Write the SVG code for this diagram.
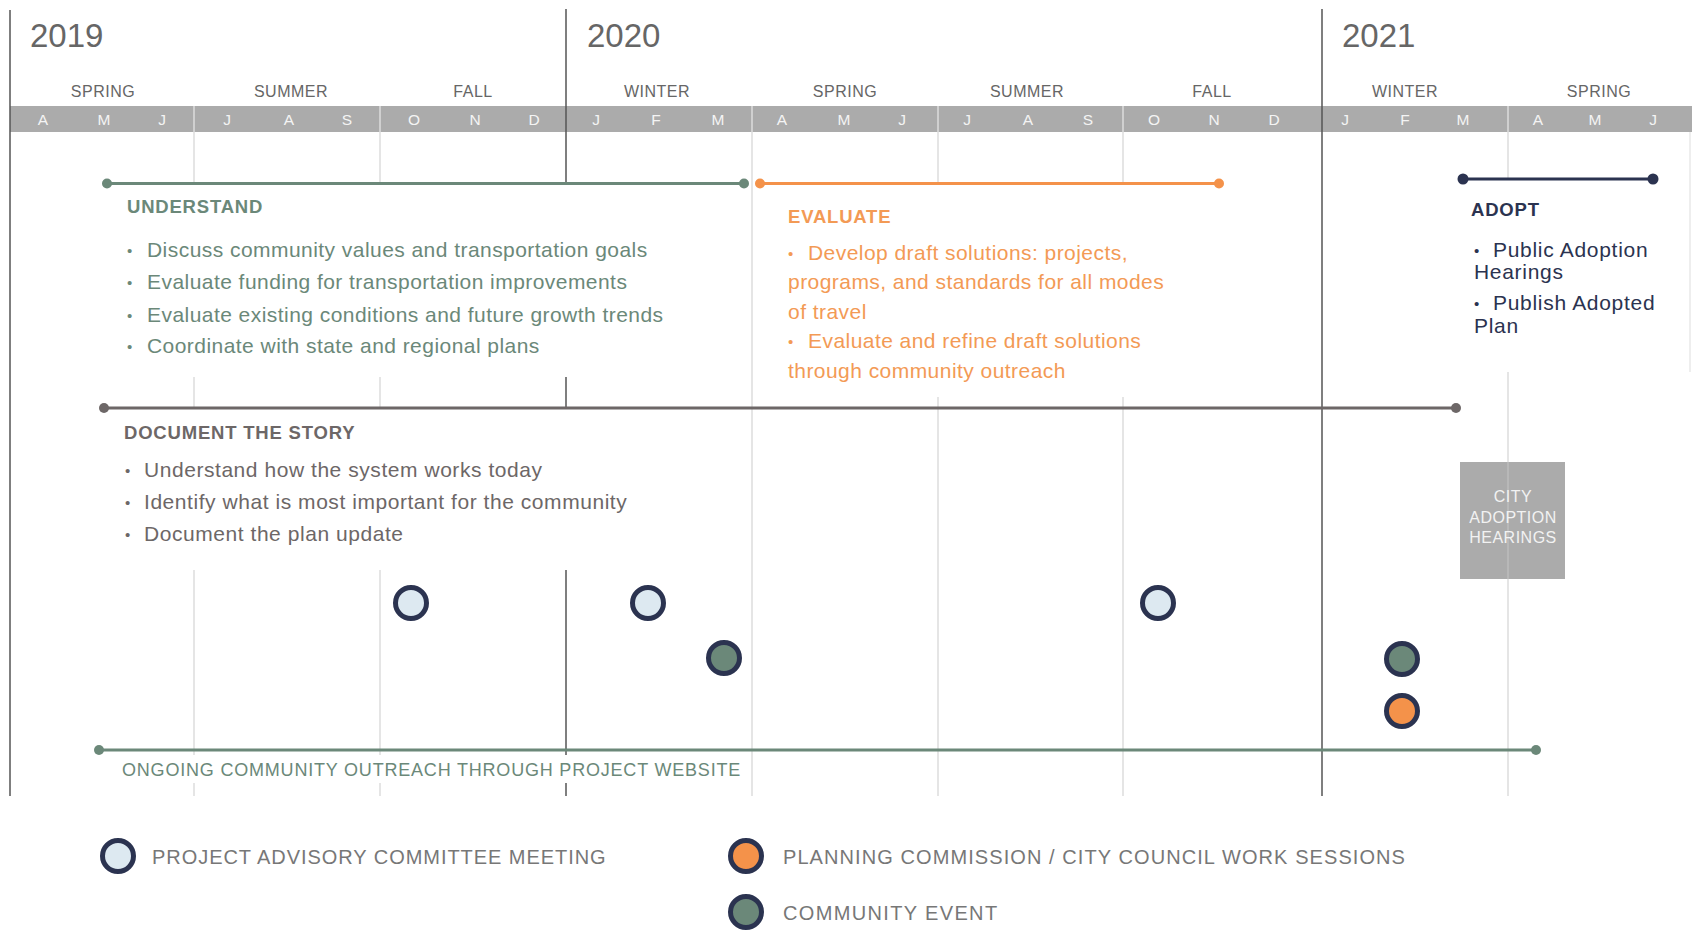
<svg xmlns="http://www.w3.org/2000/svg" width="1692" height="930" viewBox="0 0 1692 930">
<style>
text{font-family:"Liberation Sans",Arial,sans-serif}
.yr{font-size:33px;fill:#666}
.season{font-size:16px;fill:#666;text-anchor:middle;letter-spacing:0.5px}
.mo{font-size:15.5px;fill:#f4f4f4;text-anchor:middle}
.grid{stroke:#dddddd;stroke-width:1.5;fill:none}
.year{stroke:#555555;stroke-width:1.5;fill:none}
.title{font-size:18.5px;font-weight:bold;letter-spacing:0.8px}
.body{font-size:21px;letter-spacing:0.45px}
.bul{font-size:15px}
.green{fill:#6b8879}
.orange{fill:#f39a55}
.navy{fill:#2b3350}
.brown{fill:#6d6767}
.ev{stroke:#2b3350;stroke-width:5}
.pac{fill:#dde9f1}
.com{fill:#6b8879}
.pc{fill:#f4924a}
.leg{font-size:20px;fill:#777;letter-spacing:0.95px}
</style>

<g id="header">
  <text class="yr" x="30" y="47">2019</text>
  <text class="yr" x="587" y="47">2020</text>
  <text class="yr" x="1342" y="47">2021</text>
  <text class="season" x="103" y="97">SPRING</text>
  <text class="season" x="291" y="97">SUMMER</text>
  <text class="season" x="473" y="97">FALL</text>
  <text class="season" x="657" y="97">WINTER</text>
  <text class="season" x="845" y="97">SPRING</text>
  <text class="season" x="1027" y="97">SUMMER</text>
  <text class="season" x="1212" y="97">FALL</text>
  <text class="season" x="1405" y="97">WINTER</text>
  <text class="season" x="1599" y="97">SPRING</text>
  <rect x="10" y="106" width="1682" height="26" fill="#ababab"/>
  <text class="mo" x="43" y="125">A</text>
  <text class="mo" x="104" y="125">M</text>
  <text class="mo" x="162" y="125">J</text>
  <text class="mo" x="227" y="125">J</text>
  <text class="mo" x="289" y="125">A</text>
  <text class="mo" x="347" y="125">S</text>
  <text class="mo" x="414" y="125">O</text>
  <text class="mo" x="475" y="125">N</text>
  <text class="mo" x="534" y="125">D</text>
  <text class="mo" x="596" y="125">J</text>
  <text class="mo" x="656" y="125">F</text>
  <text class="mo" x="718" y="125">M</text>
  <text class="mo" x="782" y="125">A</text>
  <text class="mo" x="844" y="125">M</text>
  <text class="mo" x="902" y="125">J</text>
  <text class="mo" x="967" y="125">J</text>
  <text class="mo" x="1028" y="125">A</text>
  <text class="mo" x="1088" y="125">S</text>
  <text class="mo" x="1154" y="125">O</text>
  <text class="mo" x="1214" y="125">N</text>
  <text class="mo" x="1274" y="125">D</text>
  <text class="mo" x="1345" y="125">J</text>
  <text class="mo" x="1405" y="125">F</text>
  <text class="mo" x="1463" y="125">M</text>
  <text class="mo" x="1538" y="125">A</text>
  <text class="mo" x="1595" y="125">M</text>
  <text class="mo" x="1653" y="125">J</text>
</g>

<g id="gridlines">
  <path class="grid" d="M194 106V184M194 377V408M194 570V755M194 783V796"/>
  <path class="grid" d="M380 106V184M380 377V408M380 570V755M380 783V796"/>
  <path class="grid" d="M752 106V796"/>
  <path class="grid" d="M938 106V184M938 397V796"/>
  <path class="grid" d="M1123 106V184M1123 397V796"/>
  <path class="grid" d="M1508 106V179M1508 372V796"/>
  <path class="grid" d="M1690 132V372" style="stroke:#e8e8e8"/>
  <path class="year" d="M10 10V796"/>
  <path class="year" d="M566 9V184M566 377V408M566 570V755M566 783V796"/>
  <path class="year" d="M1322 9V796"/>
</g>

<g id="city-adoption-hearings">
  <rect x="1460" y="462" width="105" height="117" fill="#ababab"/>
  <path d="M1508 462V579" stroke="#bdbdbd" stroke-width="1.5"/>
  <text x="1513" y="502" font-size="16" fill="#f2f2f2" text-anchor="middle" letter-spacing="0.5">CITY</text>
  <text x="1513" y="523" font-size="16" fill="#f2f2f2" text-anchor="middle" letter-spacing="0.5">ADOPTION</text>
  <text x="1513" y="543" font-size="16" fill="#f2f2f2" text-anchor="middle" letter-spacing="0.5">HEARINGS</text>
</g>

<g id="connectors">
  <g id="understand-line" stroke="#6b8879" fill="#6b8879">
    <line x1="107" y1="183.5" x2="744" y2="183.5" stroke-width="3"/>
    <circle cx="107" cy="183.5" r="5" stroke="none"/>
    <circle cx="744" cy="183.5" r="5" stroke="none"/>
  </g>
  <g id="evaluate-line" stroke="#f4924a" fill="#f4924a">
    <line x1="760" y1="183.5" x2="1219" y2="183.5" stroke-width="3"/>
    <circle cx="760" cy="183.5" r="5" stroke="none"/>
    <circle cx="1219" cy="183.5" r="5" stroke="none"/>
  </g>
  <g id="adopt-line" stroke="#2b3350" fill="#2b3350">
    <line x1="1463" y1="179" x2="1653" y2="179" stroke-width="3"/>
    <circle cx="1463" cy="179" r="5.5" stroke="none"/>
    <circle cx="1653" cy="179" r="5.5" stroke="none"/>
  </g>
  <g id="document-line" stroke="#6d6767" fill="#6d6767">
    <line x1="104" y1="408" x2="1456" y2="408" stroke-width="3"/>
    <circle cx="104" cy="408" r="5" stroke="none"/>
    <circle cx="1456" cy="408" r="5" stroke="none"/>
  </g>
  <g id="ongoing-line" stroke="#6b8879" fill="#6b8879">
    <line x1="99" y1="750" x2="1536" y2="750" stroke-width="3"/>
    <circle cx="99" cy="750" r="5" stroke="none"/>
    <circle cx="1536" cy="750" r="5" stroke="none"/>
  </g>
</g>

<g id="understand">
  <text class="title green" x="127" y="213">UNDERSTAND</text>
  <text class="bul green" x="127" y="256">•</text>
  <text class="body green" x="147" y="257">Discuss community values and transportation goals</text>
  <text class="bul green" x="127" y="288">•</text>
  <text class="body green" x="147" y="289">Evaluate funding for transportation improvements</text>
  <text class="bul green" x="127" y="321">•</text>
  <text class="body green" x="147" y="322">Evaluate existing conditions and future growth trends</text>
  <text class="bul green" x="127" y="352">•</text>
  <text class="body green" x="147" y="353">Coordinate with state and regional plans</text>
</g>

<g id="evaluate">
  <text class="title orange" x="788" y="223">EVALUATE</text>
  <text class="bul orange" x="788" y="259">•</text>
  <text class="body orange" x="808" y="260">Develop draft solutions: projects,</text>
  <text class="body orange" x="788" y="289">programs, and standards for all modes</text>
  <text class="body orange" x="788" y="319">of travel</text>
  <text class="bul orange" x="788" y="347">•</text>
  <text class="body orange" x="808" y="348">Evaluate and refine draft solutions</text>
  <text class="body orange" x="788" y="378">through community outreach</text>
</g>

<g id="adopt">
  <text class="title navy" x="1471" y="216">ADOPT</text>
  <text class="bul navy" x="1474" y="256">•</text>
  <text class="body navy" x="1493" y="257" style="letter-spacing:0.7px">Public Adoption</text>
  <text class="body navy" x="1474" y="279" style="letter-spacing:0.7px">Hearings</text>
  <text class="bul navy" x="1474" y="309">•</text>
  <text class="body navy" x="1493" y="310" style="letter-spacing:0.7px">Publish Adopted</text>
  <text class="body navy" x="1474" y="333" style="letter-spacing:0.7px">Plan</text>
</g>

<g id="document-the-story">
  <text class="title brown" x="124" y="439">DOCUMENT THE STORY</text>
  <text class="bul brown" x="125" y="476">•</text>
  <text class="body brown" x="144" y="477" style="letter-spacing:0.55px">Understand how the system works today</text>
  <text class="bul brown" x="125" y="508">•</text>
  <text class="body brown" x="144" y="509" style="letter-spacing:0.55px">Identify what is most important for the community</text>
  <text class="bul brown" x="125" y="540">•</text>
  <text class="body brown" x="144" y="541" style="letter-spacing:0.55px">Document the plan update</text>
</g>

<g id="ongoing-outreach">
  <text x="122" y="776" font-size="18" fill="#6b8879" letter-spacing="0.8">ONGOING COMMUNITY OUTREACH THROUGH PROJECT WEBSITE</text>
</g>

<g id="events">
  <circle id="pac-1" class="ev pac" cx="411" cy="603" r="15.5"/>
  <circle id="pac-2" class="ev pac" cx="648" cy="603" r="15.5"/>
  <circle id="pac-3" class="ev pac" cx="1158" cy="603" r="15.5"/>
  <circle id="com-1" class="ev com" cx="724" cy="658" r="15.5"/>
  <circle id="com-2" class="ev com" cx="1402" cy="659" r="15.5"/>
  <circle id="pc-1" class="ev pc" cx="1402" cy="711" r="15.5"/>
</g>

<g id="legend">
  <g id="legend-pac">
    <circle class="ev pac" cx="118" cy="856" r="15.5"/>
    <text class="leg" x="152" y="864">PROJECT ADVISORY COMMITTEE MEETING</text>
  </g>
  <g id="legend-pc">
    <circle class="ev pc" cx="746" cy="856" r="15.5"/>
    <text class="leg" x="783" y="864" style="letter-spacing:1.08px">PLANNING COMMISSION / CITY COUNCIL WORK SESSIONS</text>
  </g>
  <g id="legend-com">
    <circle class="ev com" cx="746" cy="912" r="15.5"/>
    <text class="leg" x="783" y="920" style="letter-spacing:1.35px">COMMUNITY EVENT</text>
  </g>
</g>
</svg>
